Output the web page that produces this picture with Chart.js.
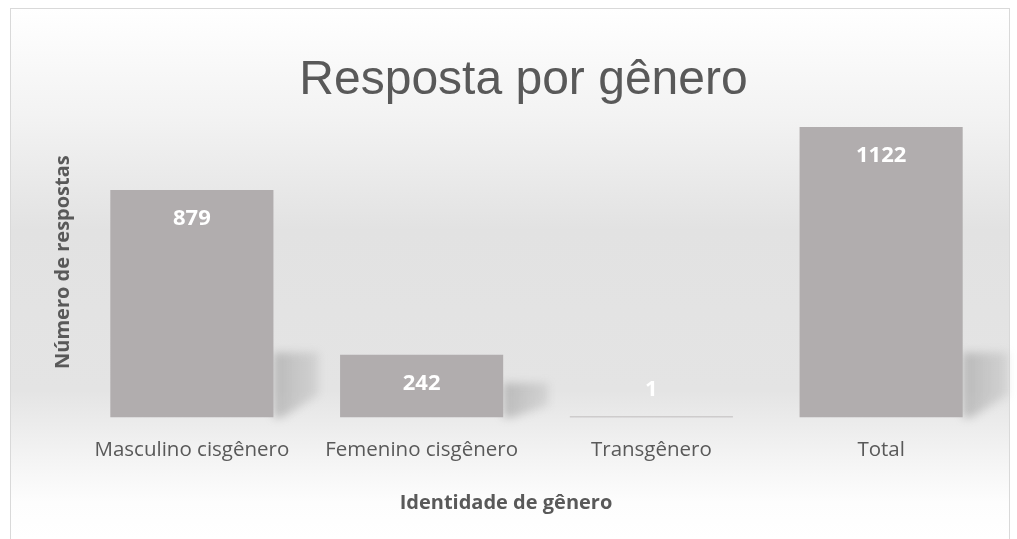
<!DOCTYPE html>
<html>
<head>
<meta charset="utf-8">
<script src="https://cdn.jsdelivr.net/npm/chart.js@4"></script>
<style>
  html, body { margin: 0; padding: 0; background: #ffffff; }
  #wrap { width: 1017px; height: 539px; }
</style>
</head>
<body>
<div id="wrap"><canvas id="myBarChart" width="1017" height="539"></canvas></div>
<script>
// dados do gráfico
const categories = ['Masculino cisgênero', 'Femenino cisgênero', 'Transgênero', 'Total'];
const responses = [879, 242, 1, 1122];
const chartTitle = 'Resposta por gênero';
const xTitle = 'Identidade de gênero';
const yTitle = 'Número de respostas';

const textColor = '#595959';
const barColor = '#b1adae';

// fundo com gradiente e borda
const backgroundPlugin = {
    id: 'backgroundPlugin',
    beforeDraw(chart) {
        const ctx = chart.ctx;
        ctx.save();
        ctx.fillStyle = '#ffffff';
        ctx.fillRect(0, 0, chart.width, chart.height);
        const grad = ctx.createLinearGradient(0, 8, 0, 539);
        grad.addColorStop(0, '#ffffff');
        grad.addColorStop(0.2, '#f3f3f3');
        grad.addColorStop(0.42, '#e2e2e2');
        grad.addColorStop(0.72, '#e4e4e4');
        grad.addColorStop(0.85, '#f4f4f4');
        grad.addColorStop(0.93, '#fdfdfd');
        grad.addColorStop(1, '#ffffff');
        ctx.fillStyle = grad;
        ctx.fillRect(10, 8, 1000, 540);
        ctx.strokeStyle = '#d9d9d9';
        ctx.lineWidth = 1;
        ctx.strokeRect(10.5, 8.5, 999, 540);
        ctx.restore();
    }
};

// sombra atrás das barras
const shadowPlugin = {
    id: 'shadowPlugin',
    beforeDatasetsDraw(chart) {
        const ctx = chart.ctx;
        const meta = chart.getDatasetMeta(0);
        meta.data.forEach(bar => {
            const barH = bar.base - bar.y;
            if (barH < 20) return;
            const R = bar.x + bar.width / 2;
            const B = bar.base;
            const h = Math.min(65, barH * 0.55);
            const w = 45;
            ctx.save();
            ctx.filter = 'blur(4px)';
            const g = ctx.createLinearGradient(R, 0, R + w, 0);
            g.addColorStop(0, 'rgba(120,120,120,0.4)');
            g.addColorStop(1, 'rgba(140,140,140,0.2)');
            ctx.fillStyle = g;
            ctx.beginPath();
            ctx.moveTo(R, B - h);
            ctx.lineTo(R + w, B - h);
            ctx.lineTo(R + w, B - h * 0.35);
            ctx.lineTo(R + w * 0.2, B);
            ctx.lineTo(R, B);
            ctx.closePath();
            ctx.fill();
            ctx.restore();
        });
    }
};

// rótulos de dados e título do eixo x
const labelPlugin = {
    id: 'labelPlugin',
    afterDatasetsDraw(chart) {
        const ctx = chart.ctx;
        const meta = chart.getDatasetMeta(0);
        ctx.save();
        ctx.fillStyle = '#ffffff';
        ctx.font = 'bold 22px "Open Sans"';
        ctx.textAlign = 'center';
        ctx.textBaseline = 'middle';
        meta.data.forEach((bar, i) => {
            const y = Math.min(bar.y + 29, bar.base - 28);
            ctx.fillText(String(responses[i]), bar.x, y);
        });
        // título do eixo x (deslocado para a esquerda como no original)
        ctx.fillStyle = textColor;
        ctx.font = 'bold 20px "Open Sans"';
        ctx.fillText(xTitle, 506, 503);
        ctx.restore();
    }
};

const barCtx = document.getElementById('myBarChart').getContext('2d');
window.casesBarChart = new Chart(barCtx, {
    type: 'bar',
    data: {
        labels: categories,
        datasets: [{
            label: yTitle,
            data: responses,
            backgroundColor: barColor,
            borderWidth: 0,
            barPercentage: 0.71,
            categoryPercentage: 1,
            minBarLength: 1
        }]
    },
    options: {
        responsive: false,
        animation: false,
        layout: {
            padding: { left: 51, right: 21, top: 0, bottom: 57 }
        },
        plugins: {
            legend: { display: false },
            tooltip: { enabled: false },
            title: {
                display: true,
                text: chartTitle,
                color: textColor,
                font: { family: '"Liberation Sans", Arial', size: 48, weight: 'normal', lineHeight: 1.1 },
                padding: { top: 54, bottom: 0 }
            }
        },
        scales: {
            y: {
                min: 0,
                max: 1200,
                grid: { display: false },
                border: { display: false },
                ticks: { display: false },
                title: {
                    display: true,
                    text: yTitle,
                    color: textColor,
                    font: { family: '"Open Sans"', size: 20, weight: 'bold', lineHeight: 1.2 },
                    padding: { top: 0, bottom: -6 }
                }
            },
            x: {
                grid: { display: false, drawTicks: false },
                border: { display: false },
                ticks: {
                    color: textColor,
                    font: { family: '"Open Sans"', size: 20.5, lineHeight: 1.2 },
                    padding: 20,
                    maxRotation: 0
                }
            }
        }
    },
    plugins: [backgroundPlugin, shadowPlugin, labelPlugin]
});
</script>
</body>
</html>
